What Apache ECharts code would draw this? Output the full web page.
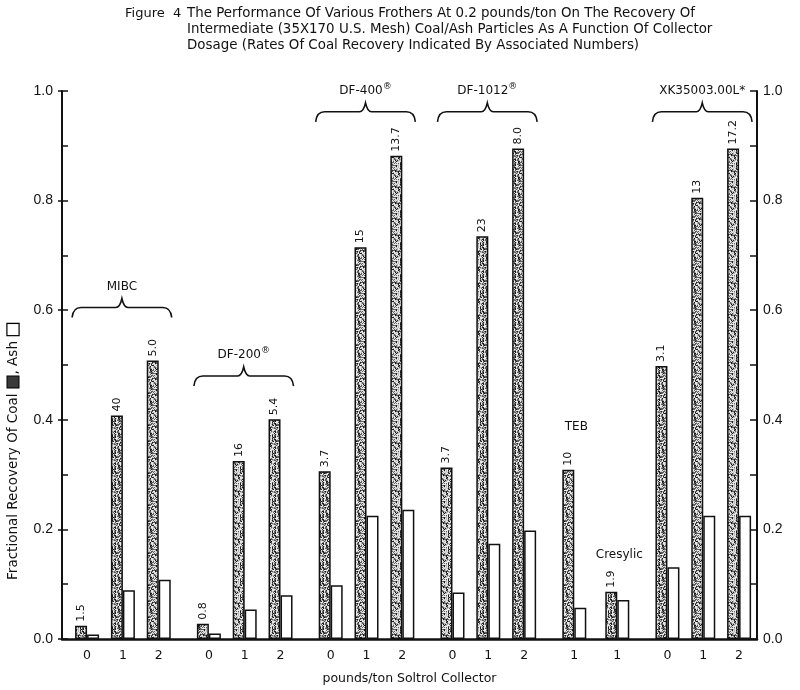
<!DOCTYPE html>
<html>
<head>
<meta charset="utf-8">
<script src="https://cdn.jsdelivr.net/npm/echarts@6/dist/echarts.min.js"></script>
<style>html,body{margin:0;padding:0;background:#fff;}#c{width:800px;height:690px;}</style>
</head>
<body>
<div id="c"></div>
<script>
// ---- data ----
const groupNames = ['MIBC', 'DF-200®', 'DF-400®', 'DF-1012®', 'TEB', 'Cresylic', 'XK35003.00L*'];
const groupDoses = [[0, 1, 2], [0, 1, 2], [0, 1, 2], [0, 1, 2], [1], [1], [0, 1, 2]];
const coalRecovery = [0.024, 0.408, 0.508, 0.028, 0.325, 0.401, 0.306, 0.715, 0.882, 0.313, 0.735, 0.895, 0.309, 0.086, 0.498, 0.805, 0.895];
const ashRecovery = [0.008, 0.089, 0.108, 0.010, 0.054, 0.080, 0.098, 0.225, 0.236, 0.085, 0.174, 0.198, 0.057, 0.071, 0.131, 0.225, 0.225];
const coalRates = ['1.5', '40', '5.0', '0.8', '16', '5.4', '3.7', '15', '13.7', '3.7', '23', '8.0', '10', '1.9', '3.1', '13', '17.2'];
const yTicks = [0.0, 0.2, 0.4, 0.6, 0.8, 1.0];
const titleLines = [
  'The Performance Of Various Frothers At 0.2 pounds/ton On The Recovery Of',
  'Intermediate (35X170 U.S. Mesh) Coal/Ash Particles As A Function Of Collector',
  'Dosage (Rates Of Coal Recovery Indicated By Associated Numbers)'
];

// annotation layout (label heights in axis units, brace or not)
const groupLabelLevel = [0.605, 0.48, 0.962, 0.962, 0.388, 0.154, 0.962];
const groupHasBrace = [true, true, true, true, false, false, true];

// ---- category axis built with spacer slots (layout only) ----
const LEAD = 3, WITHIN = 5, TRAIL = 2;
const GAPS = [7, 7, 7, 7, 6, 7];
const categories = [];
const coalData = [], ashData = [];
const groupSpan = [];
function pushSpacers(n) { for (let i = 0; i < n; i++) { categories.push(''); coalData.push('-'); ashData.push('-'); } }
let barIdx = 0;
pushSpacers(LEAD);
groupDoses.forEach((doses, g) => {
  if (g > 0) pushSpacers(GAPS[g - 1] - 1);
  const first = categories.length;
  doses.forEach((d, k) => {
    if (k > 0) pushSpacers(WITHIN - 1);
    categories.push(String(d));
    coalData.push({ value: coalRecovery[barIdx], rate: coalRates[barIdx] });
    ashData.push(ashRecovery[barIdx]);
    barIdx++;
  });
  groupSpan.push([first, categories.length - 1]);
});
pushSpacers(TRAIL);

// stipple texture for coal bars (deterministic)
function makeStipple() {
  const c = document.createElement('canvas');
  c.width = 16; c.height = 16;
  const ctx = c.getContext('2d');
  ctx.fillStyle = '#5e5e5e';
  ctx.fillRect(0, 0, 16, 16);
  let s = 987654;
  for (let y = 0; y < 16; y++) for (let x = 0; x < 16; x++) {
    s = (s * 1103515245 + 12345) & 0x7fffffff;
    const r = s / 0x7fffffff;
    let col = null;
    if (r < 0.32) col = '#e8e8e8';
    else if (r < 0.52) col = '#b8b8b8';
    else if (r < 0.72) col = '#1a1a1a';
    if (col) { ctx.fillStyle = col; ctx.fillRect(x, y, 1, 1); }
  }
  return c;
}
const stipple = makeStipple();

const FONT = 'DejaVu Sans';
const AXFONT = 'Liberation Sans';

const braceData = groupSpan.map((sp, g) => [sp[0], sp[1], groupLabelLevel[g]]);

function renderBrace(params, api) {
  const g = params.dataIndex;
  const a = api.coord([api.value(0), api.value(2)]);
  const b = api.coord([api.value(1), api.value(2)]);
  const y = a[1];
  const name = groupNames[g];
  const m = name.match(/^(.*)®$/);
  const text = m ? m[1] + '{s|®}' : name;
  const children = [];
  let xm = (a[0] + b[0]) / 2;
  if (groupHasBrace[g]) {
    const x0 = a[0] - 15, x1 = b[0] + 13;
    xm = (x0 + x1) / 2;
    const d = 'M' + x0 + ' ' + (y + 10) + ' Q' + (x0 + 1) + ' ' + y + ' ' + (x0 + 9) + ' ' + y +
      ' L' + (xm - 6) + ' ' + y + ' Q' + (xm - 2) + ' ' + y + ' ' + xm + ' ' + (y - 9) +
      ' Q' + (xm + 2) + ' ' + y + ' ' + (xm + 6) + ' ' + y +
      ' L' + (x1 - 9) + ' ' + y + ' Q' + (x1 - 1) + ' ' + y + ' ' + x1 + ' ' + (y + 10);
    children.push({ type: 'path', shape: { pathData: d }, style: { fill: null, stroke: '#111', lineWidth: 1.6 } });
    children.push({ type: 'text', style: { text: text, x: xm, y: y - 21, align: 'center', verticalAlign: 'middle',
      fontFamily: FONT, fontSize: 12, fill: '#111', rich: { s: { fontSize: 9, fontFamily: FONT, padding: [0, 0, 8, 0], fill: '#111' } } } });
  } else {
    children.push({ type: 'text', style: { text: text, x: xm + 2, y: y, align: 'center', verticalAlign: 'middle',
      fontFamily: FONT, fontSize: 12, fill: '#111' } });
  }
  return { type: 'group', children: children };
}

const chart = echarts.init(document.getElementById('c'), null, { renderer: 'canvas' });
const yBase = {
  type: 'value', min: 0, max: 1, interval: 0.2,
  splitLine: { show: false }
};
chart.setOption({
  backgroundColor: '#ffffff',
  animation: false,
  title: [
    { text: 'Figure  4', left: 125, top: 6, padding: 0, textStyle: { fontFamily: FONT, fontSize: 13, fontWeight: 'normal', color: '#111', lineHeight: 16 } },
    { text: titleLines.join('\n'), left: 187, top: 6, padding: 0, textStyle: { fontFamily: FONT, fontSize: 13.4, fontWeight: 'normal', color: '#111', lineHeight: 16 } }
  ],
  grid: { left: 62, right: 43, top: 91, bottom: 48, containLabel: false },
  xAxis: {
    type: 'category', data: categories, boundaryGap: true,
    axisLine: { show: true, lineStyle: { color: '#111', width: 2.5 } },
    axisTick: { show: false },
    axisLabel: { interval: 0, margin: 10, fontFamily: FONT, fontSize: 12.5, color: '#111' },
    name: 'pounds/ton Soltrol Collector', nameLocation: 'middle', nameGap: 33,
    nameTextStyle: { fontFamily: FONT, fontSize: 12.5, color: '#111' }
  },
  yAxis: [
    Object.assign({}, yBase, {
      position: 'left',
      axisLine: { show: true, lineStyle: { color: '#111', width: 2 } },
      axisTick: { show: true, inside: true, length: 6, lineStyle: { color: '#111', width: 1.5 } },
      minorTick: { show: true, splitNumber: 2, length: 6, lineStyle: { color: '#111', width: 1.5 } },
      axisLabel: { margin: 9, fontFamily: AXFONT, fontSize: 14, color: '#111', formatter: v => v.toFixed(1) }
    }),
    Object.assign({}, yBase, {
      position: 'right',
      axisLine: { show: true, lineStyle: { color: '#111', width: 2 } },
      axisTick: { show: true, inside: true, length: 7, lineStyle: { color: '#111', width: 1.5 } },
      minorTick: { show: true, splitNumber: 2, length: 7, lineStyle: { color: '#111', width: 1.5 } },
      axisLabel: { margin: 6, fontFamily: AXFONT, fontSize: 14, color: '#111', formatter: v => v.toFixed(1) }
    }),
    Object.assign({}, yBase, {
      position: 'left',
      axisLine: { show: false },
      axisTick: { show: true, inside: false, length: 4, lineStyle: { color: '#111', width: 1.5 } },
      axisLabel: { show: false }
    })
  ],
  graphic: [{
    type: 'text', x: 13, y: 452, rotation: Math.PI / 2,
    style: {
      text: 'Fractional Recovery Of Coal{g| }{c| }{p|,} Ash{g| }{a| }',
      align: 'center', verticalAlign: 'middle',
      fontFamily: FONT, fontSize: 13.5, fill: '#111',
      rich: {
        g: { width: 6, fontSize: 13.5 },
        c: { width: 11, height: 11, backgroundColor: '#3a3a3a', borderColor: '#000', borderWidth: 1 },
        p: { fontFamily: FONT, fontSize: 13.5, fill: '#111', padding: [0, 0, 0, 2] },
        a: { width: 11, height: 11, backgroundColor: '#fff', borderColor: '#000', borderWidth: 1.2 }
      }
    }
  }],
  series: [
    {
      type: 'bar', name: 'Coal', yAxisIndex: 0, data: coalData, barWidth: 12, barGap: '0%',
      itemStyle: { color: { image: stipple, repeat: 'repeat' }, borderColor: '#111', borderWidth: 1.5 },
      label: {
        show: true, position: 'top', rotate: 90, align: 'left', verticalAlign: 'middle', distance: 4,
        fontFamily: FONT, fontSize: 11, color: '#111',
        formatter: p => (p.data && p.data.rate) ? p.data.rate : ''
      }
    },
    {
      type: 'bar', name: 'Ash', yAxisIndex: 0, data: ashData, barWidth: 12, barGap: '0%',
      itemStyle: { color: '#ffffff', borderColor: '#111', borderWidth: 1.5 }
    },
    {
      type: 'custom', name: 'groups', yAxisIndex: 0, data: braceData,
      encode: { x: [0, 1], y: 2 }, renderItem: renderBrace, clip: false, silent: true, z: 5
    }
  ]
});
</script>
</body>
</html>
